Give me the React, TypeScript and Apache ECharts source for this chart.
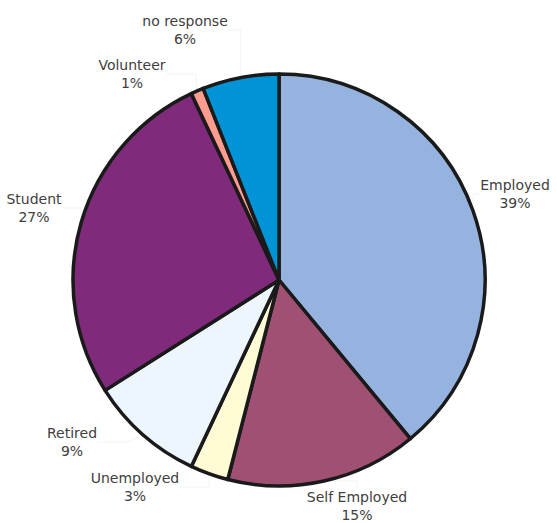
import React, { useEffect, useRef } from "react";
import * as echarts from "echarts";

const categories = ["Employed", "Self Employed", "Unemployed", "Retired", "Student", "Volunteer", "no response"];
const values = [39, 15, 3, 9, 27, 1, 6];
const colors = ["#95B3DE", "#A05173", "#FFFBD5", "#EEF6FD", "#7F2A7A", "#FF9C90", "#0094D7"];
// label anchor positions (style)
const labelPos: [number, number][] = [
  [515, 194],
  [357, 506],
  [135, 487],
  [72, 442],
  [34, 208],
  [132, 74],
  [185, 30],
];

export default function App() {
  const ref = useRef<HTMLDivElement>(null);
  useEffect(() => {
    const chart = echarts.init(ref.current!, null, { renderer: "svg" });
    chart.setOption({
      animation: false,
      backgroundColor: "#ffffff",
      series: [
        {
          type: "pie",
          center: [279, 280],
          radius: [0, 206],
          startAngle: 90,
          clockwise: true,
          avoidLabelOverlap: false,
          data: categories.map((c, i) => ({
            name: c,
            value: values[i],
            itemStyle: { color: colors[i] },
          })),
          itemStyle: { borderColor: "#1a1a1a", borderWidth: 3.5 },
          label: {
            show: true,
            formatter: "{b}\n{c}%",
            color: "#404040",
            fontSize: 14,
            fontFamily: "DejaVu Sans",
            lineHeight: 18,
            align: "center",
          },
          labelLine: { show: true, lineStyle: { color: "#f3f3f3", width: 1 } },
          labelLayout: (params: any) => {
            const p = labelPos[params.dataIndex];
            return { x: p[0], y: p[1], align: "center", verticalAlign: "middle" };
          },
          emphasis: { disabled: true },
        },
      ],
    });
    return () => chart.dispose();
  }, []);
  return <div ref={ref} style={{ position: "absolute", left: 0, top: 0, width: 557, height: 523 }} />;
}
